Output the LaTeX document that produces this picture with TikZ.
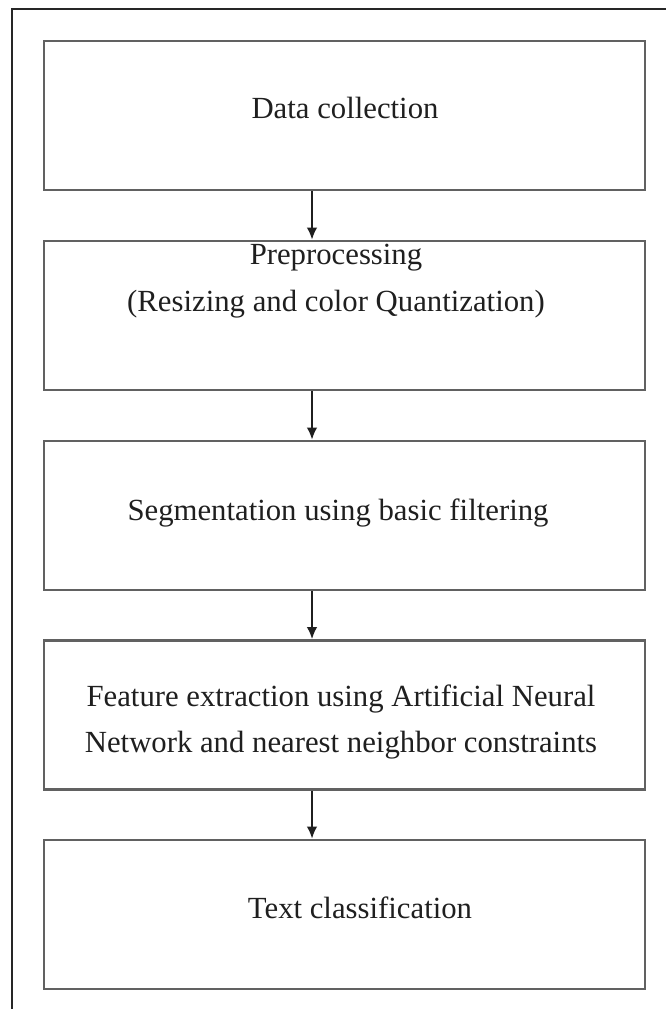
\documentclass[tikz,border=0pt]{standalone}
\usepackage{fontspec}
\setmainfont{Liberation Serif}
\usetikzlibrary{arrows.meta}

\begin{document}
\begin{tikzpicture}[x=0.02cm, y=-0.02cm, >={Latex[length=2.4mm,width=2.1mm]},
    stagebox/.style={draw=black!62, line width=1.6pt, minimum width=12.02cm,
        minimum height=2.98cm, inner sep=0pt},
    stagetext/.style={text=black!88, align=center,
        font=\fontsize{17.5pt}{26.5pt}\selectfont},
    flow/.style={->, line width=1pt, black!88}]
        \useasboundingbox (0,0) rectangle (666,1009);
        % ==== OUTER FRAME ====
        \draw[line width=0.9pt, black!85] (12,1012) -- (12,9) -- (670,9);
        % ==== STAGES ====
        \node[stagebox] (collect) at (344.5,115.5) {};
        \node[stagebox] (prep)    at (344.5,315.5) {};
        \node[stagebox] (segm)    at (344.5,515.5) {};
        \node[stagebox] (feat)    at (344.5,715)   {};
        \node[stagebox] (classif) at (344.5,914.5) {};
        \node[stagetext] (collectlbl) at (345,108) {Data collection};
        \node[stagetext] (preplbl)    at (336,281) {Preprocessing\\(Resizing and color Quantization)};
        \node[stagetext] (segmlbl)    at (338,513) {Segmentation using basic filtering};
        \node[stagetext] (featlbl)    at (341,722) {Feature extraction using Artificial Neural\\Network and nearest neighbor constraints};
        \node[stagetext] (classiflbl) at (360,908) {Text classification};
        % ==== ARROWS ====
        \draw[flow] ([xshift=-0.65cm]collect.south) -- ([xshift=-0.65cm]prep.north);
        \draw[flow] ([xshift=-0.65cm]prep.south)    -- ([xshift=-0.65cm]segm.north);
        \draw[flow] ([xshift=-0.65cm]segm.south)    -- ([xshift=-0.65cm]feat.north);
        \draw[flow] ([xshift=-0.65cm]feat.south)    -- ([xshift=-0.65cm]classif.north);
\end{tikzpicture}
\end{document}
